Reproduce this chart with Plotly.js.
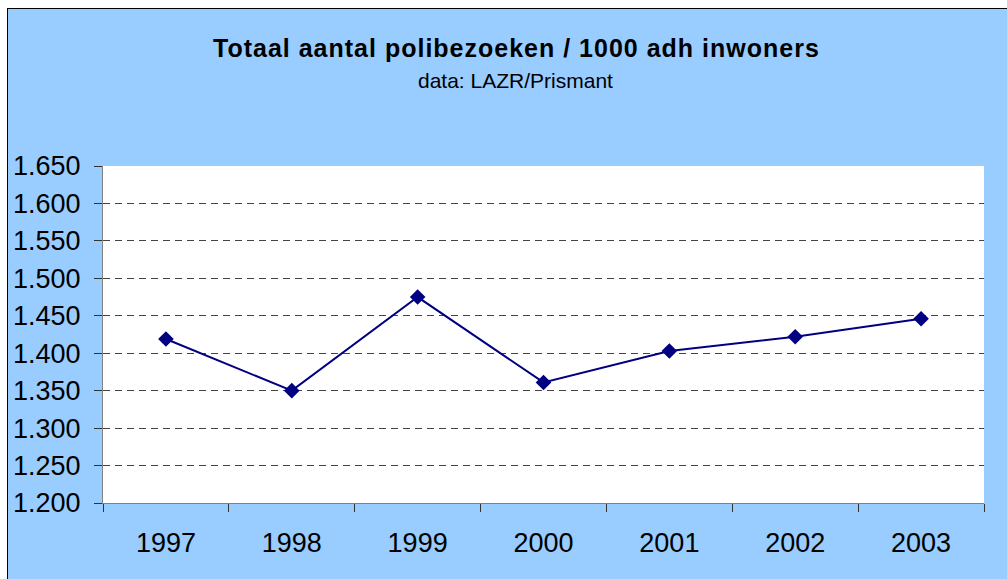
<!DOCTYPE html>
<html>
<head>
<meta charset="utf-8">
<script src="https://cdn.plot.ly/plotly-3.0.1.min.js"></script>
<style>
  html, body { margin: 0; padding: 0; background: #ffffff; width: 1007px; height: 579px; overflow: hidden; }
  #frame { position: absolute; left: 7px; top: 8px; width: 1000px; height: 571px; border-left: 1px solid #000; border-top: 1px solid #000; background: #99CCFF; box-sizing: border-box; }
  #chart { width: 999px; height: 570px; }
</style>
</head>
<body>
<div id="frame"><div id="chart"></div></div>
<script>
const years = ['1997', '1998', '1999', '2000', '2001', '2002', '2003'];
const visits = [1419, 1350, 1475, 1361, 1403, 1422, 1446];
const yTicks = [1200, 1250, 1300, 1350, 1400, 1450, 1500, 1550, 1600, 1650];
const titleText = 'Totaal aantal polibezoeken / 1000 adh inwoners';
const subtitleText = 'data: LAZR/Prismant';

const trace = {
  x: years,
  y: visits,
  type: 'scatter',
  mode: 'lines+markers',
  line: { color: '#000080', width: 2 },
  marker: { symbol: 'diamond', size: 12, color: '#000080' },
  hoverinfo: 'x+y',
  cliponaxis: false
};

const layout = {
  width: 999,
  height: 570,
  margin: { l: 95, r: 23, t: 157, b: 76 },
  paper_bgcolor: '#99CCFF',
  plot_bgcolor: '#FFFFFF',
  separators: ',.',
  showlegend: false,
  font: { family: 'Liberation Sans, Arial, sans-serif', color: '#000000' },
  xaxis: {
    type: 'category',
    range: [-0.5, years.length - 0.5],
    tickson: 'boundaries',
    ticks: 'outside',
    ticklen: 8,
    tickcolor: '#333333',
    tickwidth: 1,
    showline: true,
    linecolor: '#808080',
    linewidth: 1,
    showgrid: false,
    zeroline: false,
    tickfont: { size: 27, color: '#000000' },
    ticklabelstandoff: 16,
    fixedrange: true
  },
  yaxis: {
    range: [1200, 1650],
    tickvals: yTicks,
    tickformat: ',.0f',
    ticks: 'outside',
    ticklen: 8,
    tickcolor: '#333333',
    tickwidth: 1,
    showline: true,
    linecolor: '#808080',
    linewidth: 1,
    showgrid: true,
    gridcolor: '#444444',
    gridwidth: 1,
    griddash: '7px,5px',
    zeroline: false,
    tickfont: { size: 27, color: '#000000' },
    ticklabelstandoff: 8,
    fixedrange: true
  },
  annotations: [
    {
      text: '<b><span style="letter-spacing:1px">' + titleText + '</span></b>',
      xref: 'paper', yref: 'paper',
      x: 0.4688, y: 1.350,
      xanchor: 'center', yanchor: 'middle',
      showarrow: false,
      font: { size: 25, color: '#000000', family: 'Liberation Sans, Arial, sans-serif' }
    },
    {
      text: subtitleText,
      xref: 'paper', yref: 'paper',
      x: 0.4677, y: 1.2535,
      xanchor: 'center', yanchor: 'middle',
      showarrow: false,
      font: { size: 21, color: '#000000', family: 'Liberation Sans, Arial, sans-serif' }
    }
  ]
};

Plotly.newPlot('chart', [trace], layout, { displayModeBar: false, staticPlot: false });
</script>
</body>
</html>
